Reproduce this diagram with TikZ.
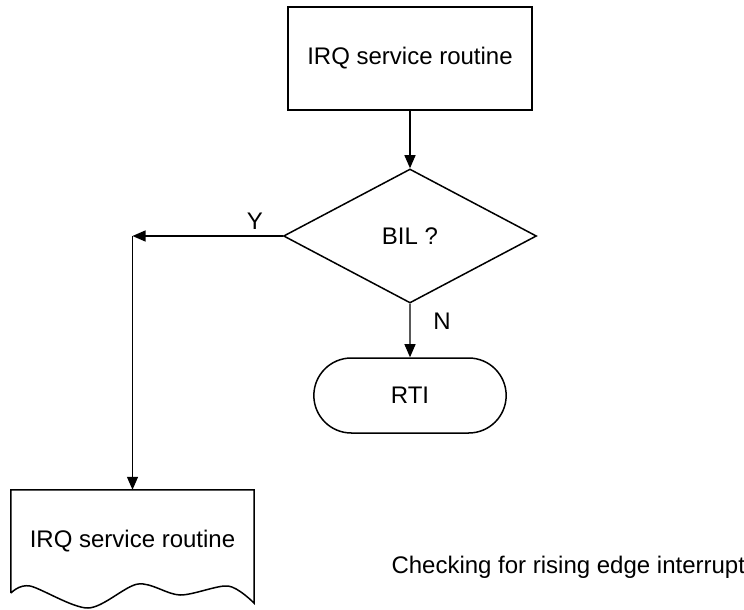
\documentclass[tikz,border=0pt]{standalone}
\usepackage{fontspec}
\setmainfont{Liberation Sans}
\usetikzlibrary{arrows.meta,shapes.geometric,shapes.misc}

\begin{document}
\begin{tikzpicture}[x=1pt,y=-1pt,>={Triangle[length=13pt,width=11pt]},
    every node/.style={align=center,font=\fontsize{24}{28}\selectfont},
    procbox/.style={draw,line width=1.5pt,minimum width=244pt,minimum height=103pt},
    decision/.style={draw,diamond,aspect=1.9,inner sep=0pt,line width=1.5pt,minimum width=253pt,minimum height=134pt},
    terminal/.style={draw,rounded rectangle,line width=1.5pt,minimum width=199pt,minimum height=75pt},
    flow/.style={->,line width=1.2pt}]
  \useasboundingbox (0,0) rectangle (744,610);
  \node[procbox] (irq) at (410,58.5) {IRQ service routine};
  \node[decision] (bil) at (410,236) {BIL ?};
  \node[terminal] (rti) at (410,395.5) {RTI};
  \node[minimum width=243pt,minimum height=103pt] (irqdoc) at (132.5,541.5) {IRQ service routine};
  \draw[line width=1.5pt] (irqdoc.south west) -- (irqdoc.north west) -- (irqdoc.north east)
    -- plot[smooth] coordinates {(254,603) (228,586) (180,595) (138,584) (88,608) (30,586) (11,593)};
  \coordinate (ycorner) at (irqdoc.north |- bil.west);
  \draw[flow] (irq) -- (bil);
  \draw[flow] (bil.west) -- (ycorner);
  \draw[flow] (ycorner) -- (irqdoc.north);
  \draw[flow] (bil) -- (rti);
  \node (ylabel) at (255,221) {Y};
  \node (nlabel) at (442,321) {N};
  \node[anchor=base west] (caption) at (388,573) {Checking for rising edge interrupt};
\end{tikzpicture}
\end{document}
